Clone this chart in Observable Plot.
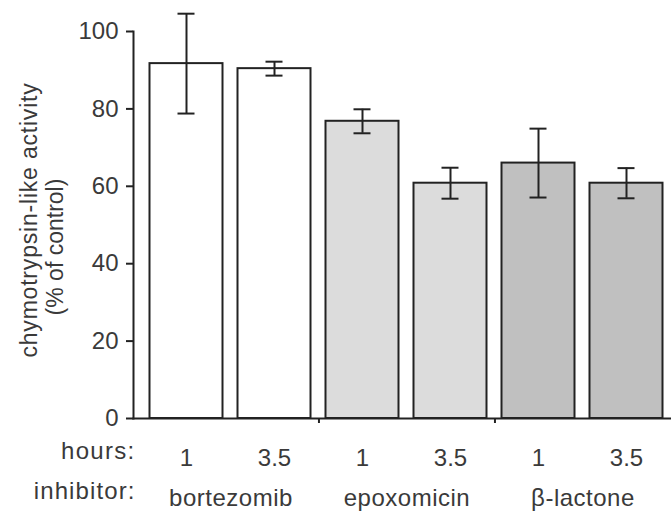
<!DOCTYPE html>
<html><head><meta charset="utf-8">
<script src="https://cdn.jsdelivr.net/npm/d3@7"></script>
<script src="https://cdn.jsdelivr.net/npm/@observablehq/plot@0.6"></script>
<style>html,body{margin:0;padding:0;background:#fff;overflow:hidden} svg{display:block}</style>
</head><body><div id="chart"></div>
<script>
// Data
const groups = ["bortezomib", "epoxomicin", "β-lactone"];
const inhibitors = ["bortezomib", "bortezomib", "epoxomicin", "epoxomicin", "β-lactone", "β-lactone"];
const hours = ["1", "3.5", "1", "3.5", "1", "3.5"];
const activity = [91.7, 90.4, 76.8, 60.8, 66.0, 60.8];
const errors = [12.9, 1.8, 3.1, 4.0, 8.9, 3.9];
const yTicks = [0, 20, 40, 60, 80, 100];
const yLabel1 = "chymotrypsin-like activity";
const yLabel2 = "(% of control)";
const rowLabels = ["hours:", "inhibitor:"];

const rows = inhibitors.map((inh, i) => ({
  key: inh + " " + hours[i], inhibitor: inh, hours: hours[i],
  value: activity[i], lo: activity[i] - errors[i], hi: activity[i] + errors[i]
}));
const keys = rows.map(d => d.key);
const xRange = [139.5, 673];
const step = (xRange[1] - xRange[0]) / keys.length;
const ink = "#222";
const textInk = "#3a3a3a";

const plot = Plot.plot({
  width: 671, height: 518,
  marginLeft: 133, marginRight: 0, marginTop: 31, marginBottom: 100,
  style: {fontFamily: "'Liberation Sans', Arial, sans-serif", fontSize: "24px", color: textInk, background: "#fff", overflow: "visible"},
  x: {domain: keys, range: xRange, padding: 0, axis: null},
  y: {domain: [0, 100], axis: null},
  color: {domain: groups, range: ["#ffffff", "#dcdcdc", "#c0c0c0"]},
  marks: [
    Plot.barY(rows, {x: "key", y: "value", fill: "inhibitor", stroke: ink, strokeWidth: 2, insetLeft: 7.5, insetRight: 7.5}),
    Plot.ruleX(rows, {x: "key", y1: "lo", y2: "hi", stroke: ink, strokeWidth: 2}),
    Plot.tickY(rows, {x: "key", y: "lo", stroke: ink, strokeWidth: 2, insetLeft: 35.5, insetRight: 35.5}),
    Plot.tickY(rows, {x: "key", y: "hi", stroke: ink, strokeWidth: 2, insetLeft: 35.5, insetRight: 35.5}),
    Plot.frame({anchor: "left", stroke: ink, strokeWidth: 2}),
    Plot.frame({anchor: "bottom", stroke: ink, strokeWidth: 2}),
    Plot.axisY({ticks: yTicks, tickSize: 7, tickPadding: 8, stroke: ink, strokeWidth: 2, fill: textInk, fontSize: 24}),
    Plot.ruleX(rows.filter((d, i) => d.hours === "3.5" && i < rows.length - 1), {x: "key", dx: step / 2, y1: 0, y2: -1.3, stroke: ink, strokeWidth: 2}),
    Plot.text(rows, {x: "key", y: 0, text: "hours", dy: 40, fill: textInk, fontSize: 24}),
    Plot.text(rows.filter(d => d.hours === "1"), {x: "key", y: 0, text: "inhibitor", dx: step / 2, dy: 80, fill: textInk, fontSize: 24}),
    Plot.text([rowLabels[0]], {frameAnchor: "bottom-left", textAnchor: "end", dx: 2, dy: 40, fill: textInk, fontSize: 24}),
    Plot.text([rowLabels[1]], {frameAnchor: "bottom-left", textAnchor: "end", dx: 2, dy: 80, fill: textInk, fontSize: 24}),
    Plot.text([yLabel1], {frameAnchor: "left", textAnchor: "middle", rotate: -90, dx: -104, dy: -5, fill: textInk, fontSize: 23}),
    Plot.text([yLabel2], {frameAnchor: "left", textAnchor: "middle", rotate: -90, dx: -78, dy: 22, fill: textInk, fontSize: 23})
  ]
});
// letter spacing to match the reference's looser text
const spacing = {"hours:": "1.3px", "inhibitor:": "1.1px", [yLabel1]: "0.8px", "bortezomib": "0.5px", "epoxomicin": "0.5px", "β-lactone": "0.5px"};
d3.select(plot).selectAll("text").each(function() {
  const s = spacing[this.textContent];
  if (s) this.style.letterSpacing = s;
});
document.getElementById("chart").appendChild(plot);
</script>
</body></html>
